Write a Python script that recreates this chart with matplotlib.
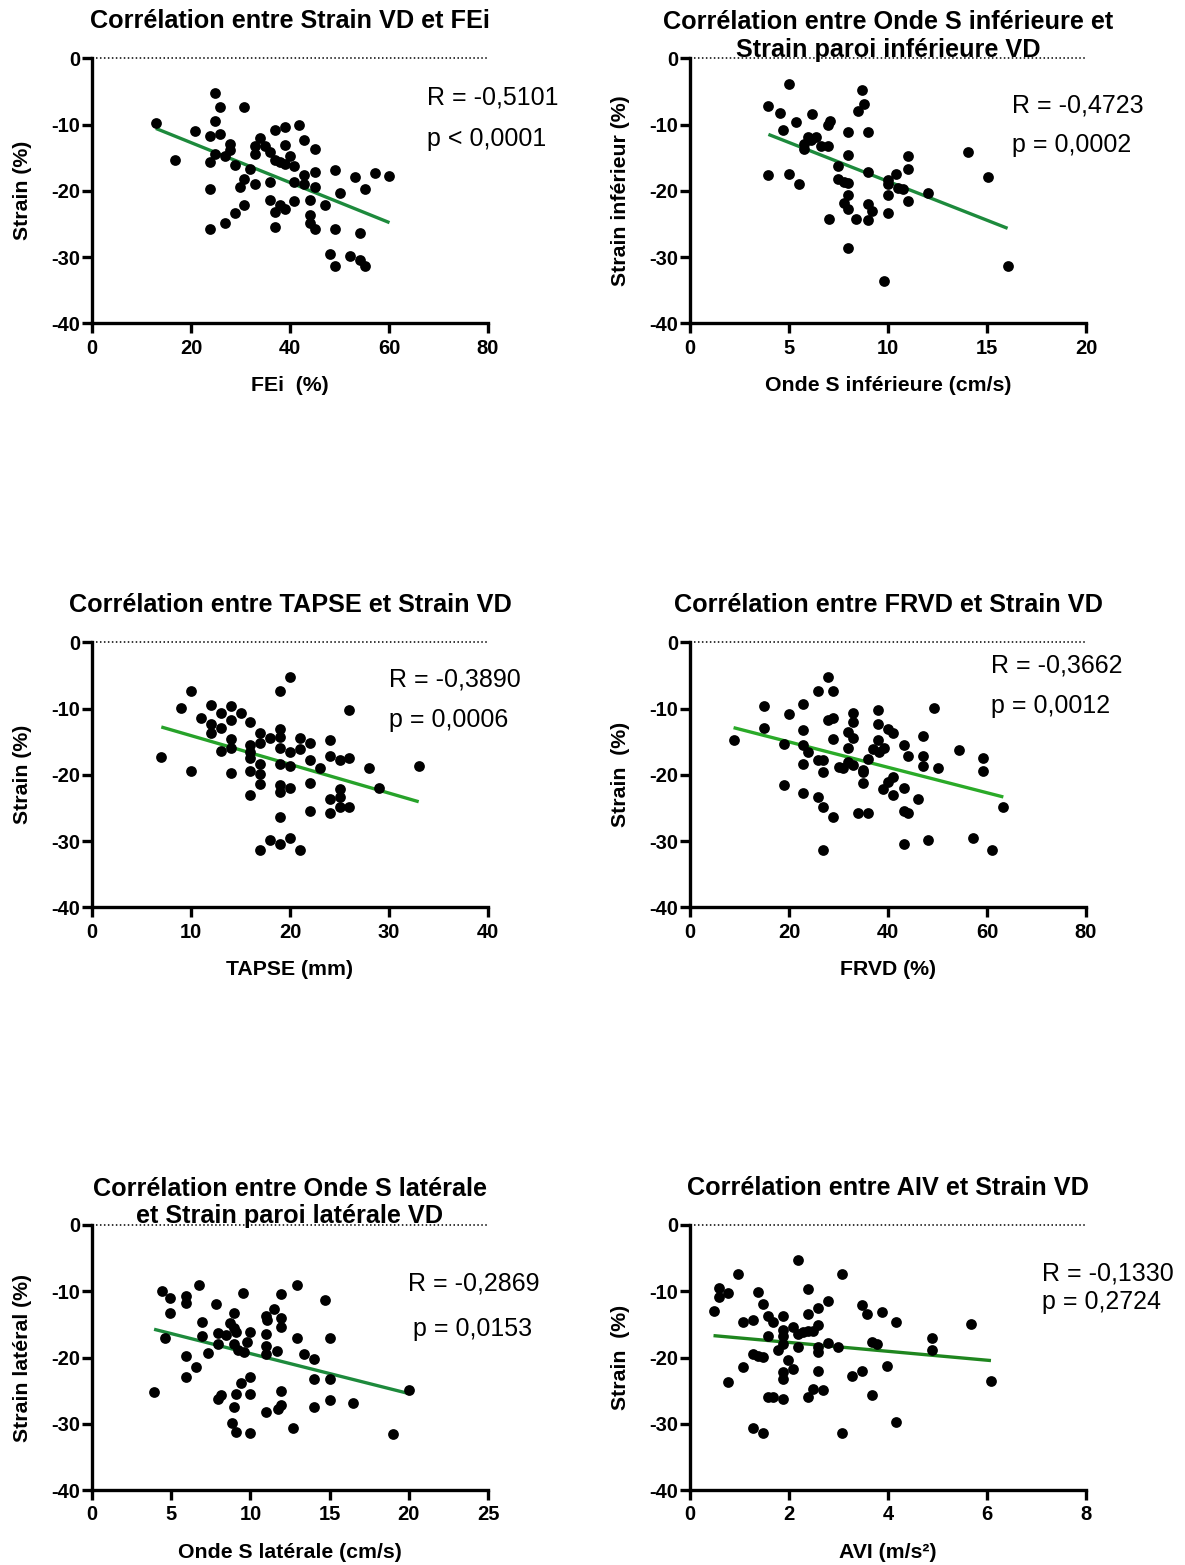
import matplotlib
matplotlib.use('Agg')
import matplotlib.pyplot as plt
import numpy as np

plt.rcParams['font.family'] = ['Liberation Sans', 'DejaVu Sans']
plt.rcParams['axes.unicode_minus'] = False

W, H, DPI = 1185, 1565, 100

# ---------------- data ----------------
fei_x = [12.9, 16.8, 20.9, 24.8, 25.9, 24.8, 23.9, 25.9, 23.9, 24.8, 23.9, 23.9, 26.9, 28.8, 30.8, 29.8,
         30.8, 28.8, 26.9, 27.9, 27.9, 30.8, 31.9, 32.9, 32.9, 32.9, 33.9, 34.9, 35.9, 36.9, 38.9, 41.9,
         42.9, 45.0, 38.9, 36.9, 37.9, 38.9, 39.9, 40.9, 35.9, 35.9, 36.9, 37.9, 38.9, 40.9, 40.9, 42.9,
         42.9, 45.0, 45.0, 44.0, 44.0, 44.0, 45.0, 47.0, 49.0, 50.2, 49.0, 48.0, 49.0, 52.1, 53.1, 54.2,
         54.2, 55.1, 55.1, 57.1, 60.1, 36.9]
fei_y = [-9.7, -15.3, -10.9, -5.3, -7.4, -9.4, -11.8, -11.5, -15.6, -14.4, -19.8, -25.8, -24.8, -23.4,
         -22.1, -19.4, -18.2, -16.1, -14.7, -13.8, -12.9, -7.4, -16.7, -18.9, -14.4, -13.3, -12.1, -13.3,
         -14.1, -10.8, -10.3, -10.0, -12.4, -13.7, -13.1, -15.3, -15.6, -15.9, -14.8, -16.2, -18.6, -21.4,
         -23.2, -22.1, -22.8, -21.6, -18.7, -17.6, -18.9, -17.1, -19.5, -21.4, -23.7, -24.9, -25.8, -22.1,
         -16.9, -20.4, -25.8, -29.5, -31.3, -29.9, -17.9, -26.3, -30.5, -31.3, -19.8, -17.3, -17.8, -25.5]

ondes_inf_x = [4.98, 3.96, 4.56, 6.16, 5.35, 4.68, 7.07, 6.99, 8.69, 8.80, 8.48, 8.0, 9.0, 5.94, 6.36,
               5.74, 5.77, 6.11, 6.62, 6.99, 8.0, 7.49, 9.0, 3.96, 4.98, 5.49, 7.49, 7.79, 8.0, 8.0, 7.79,
               8.0, 7.0, 8.38, 9.0, 9.19, 9.0, 10.02, 10.02, 10.4, 10.02, 10.02, 10.49, 10.74, 10.99,
               10.99, 10.99, 12.0, 8.0, 9.81, 14.02, 15.03, 16.04]
strain_inf_y = [-3.9, -7.2, -8.2, -8.4, -9.6, -10.8, -9.4, -10.1, -4.8, -6.9, -7.9, -11.2, -11.2, -11.9,
                -11.9, -12.9, -13.7, -12.4, -13.2, -13.2, -14.6, -16.3, -17.2, -17.6, -17.5, -18.9, -18.2,
                -18.6, -18.8, -20.6, -21.8, -22.7, -24.3, -24.2, -22.0, -23.0, -24.4, -18.4, -19.0, -17.5,
                -20.7, -23.4, -19.6, -19.8, -14.8, -16.7, -21.6, -20.4, -28.7, -33.6, -14.1, -17.9, -31.3]

tapse_x = [7, 9, 10, 10, 11, 12, 12, 12, 13, 13, 13, 14, 14, 14, 14, 14, 15, 16, 16, 16, 16, 16, 16,
           17, 17, 17, 17, 17, 17, 18, 18, 19, 19, 19, 19, 19, 19, 19, 19, 19, 20, 20, 20, 20, 20,
           21, 21, 21, 22, 22, 22, 22, 23, 24, 24, 24, 24, 25, 25, 25, 25, 26, 26, 26, 28, 29, 33]
tapse_y = [-17.3, -9.9, -7.4, -19.5, -11.4, -9.4, -12.4, -13.7, -10.7, -12.9, -16.4, -9.6, -11.7, -14.6,
           -16.0, -19.7, -10.7, -12.1, -15.5, -16.6, -17.5, -19.4, -23.0, -13.7, -15.2, -18.3, -19.9, -21.4,
           -31.3, -14.4, -29.8, -7.4, -13.1, -14.3, -15.9, -18.4, -21.6, -22.6, -26.3, -30.5, -5.2, -16.6,
           -18.6, -22.0, -29.5, -14.4, -16.1, -31.3, -15.2, -17.8, -21.2, -25.4, -18.9, -14.8, -17.1, -23.6,
           -25.8, -17.8, -22.1, -23.4, -24.8, -10.2, -17.5, -24.8, -19.0, -22.0, -18.7]

frvd_x = [8.8, 14.9, 14.9, 18.9, 18.9, 19.9, 22.9, 22.9, 22.9, 23.9, 22.9, 22.9, 25.9, 25.9, 26.9, 26.9,
          25.9, 26.9, 26.9, 27.9, 28.8, 27.9, 28.8, 28.8, 28.8, 30.0, 31.0, 32.0, 32.0, 33.0, 33.0, 33.0,
          32.0, 33.0, 35.0, 35.0, 35.0, 34.0, 36.0, 36.0, 37.0, 37.9, 37.9, 37.9, 38.2, 39.1, 40.1, 41.1,
          41.1, 40.1, 38.9, 41.1, 43.2, 44.1, 43.2, 43.2, 44.1, 43.2, 46.1, 47.1, 47.1, 47.1, 48.1, 49.2,
          50.2, 54.3, 57.1, 59.1, 59.1, 61.1, 63.3]
frvd_y = [-14.8, -9.6, -13.0, -15.3, -21.5, -10.8, -9.3, -13.2, -15.5, -16.6, -18.3, -22.8, -7.4, -17.8,
          -17.8, -19.6, -23.3, -24.8, -31.3, -5.2, -7.4, -11.8, -11.5, -14.6, -26.3, -18.8, -19.0, -13.6,
          -15.9, -14.4, -10.7, -12.1, -18.1, -18.5, -19.3, -19.6, -21.3, -25.7, -25.7, -17.6, -16.1, -10.2,
          -12.4, -14.8, -16.6, -15.9, -13.1, -13.7, -20.4, -21.1, -22.1, -23.0, -15.5, -17.1, -22.0, -25.4,
          -25.8, -30.5, -23.6, -14.2, -17.2, -18.7, -29.8, -9.9, -18.9, -16.3, -29.5, -17.5, -19.5, -31.4,
          -24.8]

ondes_lat_x = [3.92, 4.44, 4.95, 4.95, 4.63, 5.96, 5.96, 5.96, 5.96, 6.55, 6.74, 6.95, 6.95, 7.33, 7.81,
               7.96, 7.96, 7.96, 8.17, 8.48, 8.69, 8.97, 8.97, 9.07, 8.97, 9.22, 9.58, 9.54, 9.79, 9.96,
               8.86, 9.07, 8.97, 9.07, 9.39, 9.96, 9.96, 9.96, 10.97, 11.05, 10.97, 10.97, 10.97, 11.47,
               11.68, 11.96, 11.96, 11.96, 11.96, 11.96, 11.75, 10.97, 12.69, 12.97, 12.97, 13.39, 14.02,
               14.02, 14.02, 14.69, 15.01, 15.01, 15.01, 16.48, 19.01, 20.02]
strain_lat_y = [-25.2, -10.0, -11.0, -13.3, -17.0, -10.7, -11.7, -19.7, -22.9, -21.5, -9.1, -14.7, -16.7,
                -19.3, -11.9, -16.3, -17.9, -26.3, -25.6, -16.6, -14.8, -13.3, -15.6, -16.1, -18.0, -18.9,
                -19.1, -10.3, -17.7, -16.1, -29.9, -31.3, -27.5, -25.5, -23.8, -22.9, -25.5, -31.4, -13.7,
                -14.3, -16.4, -18.2, -19.4, -12.7, -19.0, -10.4, -14.0, -15.4, -25.0, -27.1, -27.8, -28.3,
                -30.7, -9.1, -17.1, -19.5, -20.2, -23.3, -27.4, -11.3, -17.1, -23.2, -26.4, -26.8, -31.6,
                -24.9]

avi_x = [0.475, 0.576, 0.576, 0.776, 0.977, 0.776, 1.078, 1.078, 1.28, 1.28, 1.37, 1.48, 1.38, 1.48,
         1.28, 1.48, 1.57, 1.67, 1.57, 1.57, 1.67, 1.77, 1.87, 1.87, 1.87, 1.87, 1.87, 1.87, 1.87, 1.98,
         2.08, 2.08, 2.18, 2.18, 2.18, 2.28, 2.38, 2.38, 2.38, 2.48, 2.38, 2.48, 2.58, 2.58, 2.58, 2.58,
         2.58, 2.68, 2.78, 2.78, 2.98, 3.08, 3.08, 3.28, 3.48, 3.58, 3.48, 3.68, 3.78, 3.68, 3.88, 3.98,
         4.17, 4.17, 4.89, 4.89, 5.68, 6.08]
avi_y = [-13.0, -9.5, -10.8, -10.3, -7.4, -23.7, -14.7, -21.4, -14.4, -19.4, -10.1, -11.9, -19.8, -19.9,
         -30.7, -31.4, -13.7, -14.6, -16.8, -25.9, -25.9, -18.8, -13.7, -15.8, -16.8, -17.9, -22.2, -23.2,
         -26.3, -20.4, -15.4, -21.7, -5.3, -16.5, -18.4, -16.2, -9.6, -13.4, -16.0, -16.0, -25.9, -24.8,
         -12.5, -15.1, -18.4, -19.2, -22.1, -24.9, -11.5, -17.8, -18.4, -7.4, -31.4, -22.8, -12.1, -13.4,
         -22.1, -17.7, -17.9, -25.6, -13.2, -21.3, -14.6, -29.7, -17.1, -18.8, -14.9, -23.5]

titles = [["Corrélation entre Strain VD et FEi"],
          ["Corrélation entre Onde S inférieure et", "Strain paroi inférieure VD"],
          ["Corrélation entre TAPSE et Strain VD"],
          ["Corrélation entre FRVD et Strain VD"],
          ["Corrélation entre Onde S latérale", "et Strain paroi latérale VD"],
          ["Corrélation entre AIV et Strain VD"]]
xlabels = ["FEi  (%)", "Onde S inférieure (cm/s)", "TAPSE (mm)", "FRVD (%)",
           "Onde S latérale (cm/s)", "AVI (m/s²)"]
ylabels = ["Strain (%)", "Strain inférieur (%)", "Strain (%)", "Strain  (%)",
           "Strain latéral (%)", "Strain  (%)"]
r_texts = ["R = -0,5101", "R = -0,4723", "R = -0,3890", "R = -0,3662", "R = -0,2869", "R = -0,1330"]
p_texts = ["p < 0,0001", "p = 0,0002", "p = 0,0006", "p = 0,0012", "p = 0,0153", "p = 0,2724"]
xticks_list = [[0, 20, 40, 60, 80], [0, 5, 10, 15, 20], [0, 10, 20, 30, 40],
               [0, 20, 40, 60, 80], [0, 5, 10, 15, 20, 25], [0, 2, 4, 6, 8]]
yticks = [0, -10, -20, -30, -40]
ytick_labels = ["0", "-10", "-20", "-30", "-40"]

xs_data = [fei_x, ondes_inf_x, tapse_x, frvd_x, ondes_lat_x, avi_x]
ys_data = [fei_y, strain_inf_y, tapse_y, frvd_y, strain_lat_y, avi_y]

# ---------------- layout / style ----------------
line_colors = ['#1d8a3c', '#1d8a3c', '#27a22a', '#2aaa28', '#1d8a3c', '#1f861f']
col_left = [92, 690]
row_top = [58.3, 642.3, 1225]
AX_W, AX_H = 396, 265
# text anchor positions (pixels)
r_pos = [(427, 104, 146), (1012, 113, 152), (389, 686, 727),
         (991, 672, 713), (408, 1291, 1336), (1042, 1280, 1309)]
p_dx = [0, 0, 0, 0, 5, 0]

fig = plt.figure(figsize=(W / DPI, H / DPI), dpi=DPI)


def fx(x):
    return x / W


def fy(y):
    return 1 - y / H


for i in range(6):
    r, c = divmod(i, 2)
    left, top = col_left[c], row_top[r]
    ax = fig.add_axes([fx(left), fy(top + AX_H), AX_W / W, AX_H / H])
    x = np.array(xs_data[i], dtype=float)
    y = np.array(ys_data[i], dtype=float)
    xt = xticks_list[i]

    ax.set_xlim(xt[0], xt[-1])
    ax.set_ylim(-40, 0)
    for s in ['top', 'right']:
        ax.spines[s].set_visible(False)
    for s in ['left', 'bottom']:
        ax.spines[s].set_linewidth(2.4)
    ax.set_xticks(xt)
    ax.set_xticklabels([str(v) for v in xt])
    ax.set_yticks(yticks)
    ax.set_yticklabels(ytick_labels)
    ax.tick_params(axis='both', direction='out', length=7.5, width=2.4, labelsize=14.5)
    ax.tick_params(axis='x', pad=3.5)
    ax.tick_params(axis='y', pad=1.2)
    for lab in ax.get_xticklabels() + ax.get_yticklabels():
        lab.set_fontweight('bold')

    # dotted zero line
    ax.axhline(0, color='black', lw=1.1, ls=(0, (1, 1.6)), clip_on=False, zorder=1)

    # regression line
    slope, intercept = np.polyfit(x, y, 1)
    xl = np.array([x.min(), x.max()])
    ax.plot(xl, slope * xl + intercept, color=line_colors[i], lw=2.4, zorder=2,
            solid_capstyle='butt')

    ax.scatter(x, y, s=60, color='black', linewidths=0, zorder=3, clip_on=False)

    cx = left + AX_W / 2
    # titles
    if len(titles[i]) == 1:
        fig.text(fx(cx), fy(top - 30), titles[i][0], ha='center', va='baseline',
                 fontsize=18.2, fontweight='bold')
    else:
        fig.text(fx(cx), fy(top - 29), titles[i][0], ha='center', va='baseline',
                 fontsize=18.2, fontweight='bold')
        fig.text(fx(cx), fy(top - 1.5), titles[i][1], ha='center', va='baseline',
                 fontsize=18.2, fontweight='bold')
    # axis labels
    fig.text(fx(cx), fy(top + AX_H + 68), xlabels[i], ha='center', va='baseline',
             fontsize=15.3, fontweight='bold')
    fig.text(fx(left - 64), fy(top + AX_H / 2), ylabels[i], ha='center', va='baseline',
             rotation=90, rotation_mode='anchor', fontsize=15.3, fontweight='bold')
    # stats
    rx, ry, py = r_pos[i]
    fig.text(fx(rx), fy(ry), r_texts[i], ha='left', va='baseline', fontsize=18)
    fig.text(fx(rx + p_dx[i]), fy(py), p_texts[i], ha='left', va='baseline', fontsize=18)

fig.savefig('out.png', dpi=DPI)
